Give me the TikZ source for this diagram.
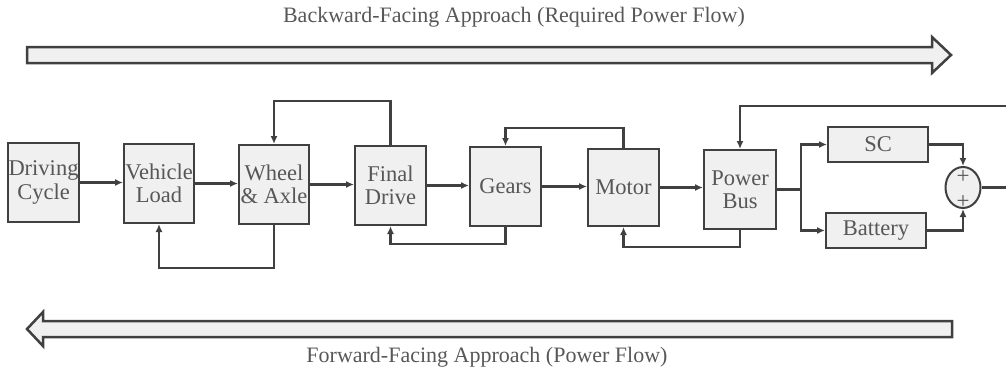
\documentclass[tikz,border=0pt]{standalone}
\usepackage{fontspec}
\setmainfont{Liberation Serif}
\newfontfamily\blockfont{Liberation Serif}
\usetikzlibrary{arrows.meta,shapes.geometric}
\definecolor{boxfill}{HTML}{F0F0F0}
\definecolor{edge}{HTML}{404040}
\definecolor{txt}{HTML}{575757}
\begin{document}
\begin{tikzpicture}[x=1pt,y=-1pt,
  blk/.style={draw=edge, fill=boxfill, line width=2pt, inner sep=0pt, text=txt,
    align=center, font=\blockfont\fontsize{22.5}{23.5}\selectfont},
  flow/.style={draw=edge, line width=2.2pt, -{Latex[length=8pt,width=7pt]}},
  wire/.style={draw=edge, line width=2.2pt},
  bigarrow/.style={draw=edge, fill=boxfill, line width=2.5pt, line join=miter},
  caption/.style={text=txt, font=\blockfont\fontsize{22}{24}\selectfont},
  sign/.style={text=txt, font=\blockfont\fontsize{23}{23}\selectfont, inner sep=0pt}]
\useasboundingbox (0,0) rectangle (1006,373);

% captions and the two broad flow arrows
\node[caption] (bwtxt) at (514,17) {Backward-Facing Approach (Required Power Flow)};
\node[caption] (fwtxt) at (487,357) {Forward-Facing Approach (Power Flow)};
\path[bigarrow] (27,47) -- (932,47) -- (932,37) -- (951,55) -- (932,73) -- (932,63) -- (27,63) -- cycle;
\path[bigarrow] (952,321) -- (43,321) -- (43,312) -- (27,329) -- (43,346) -- (43,337) -- (952,337) -- cycle;

% drivetrain blocks
\node[blk, minimum width=71pt, minimum height=79pt] (dc) at (43.5,182.5) {Driving\\Cycle};
\node[blk, minimum width=70pt, minimum height=79pt] (vl) at (159,183.5) {Vehicle\\Load};
\node[blk, minimum width=70pt, minimum height=79pt] (wa) at (274,184.5) {Wheel\\\& Axle};
\node[blk, minimum width=71pt, minimum height=79pt] (fd) at (390.5,185.5) {Final\\Drive};
\node[blk, minimum width=71pt, minimum height=79pt] (ge) at (505.5,186.5) {Gears};
\node[blk, minimum width=71pt, minimum height=77pt] (mo) at (623.5,187.5) {Motor};
\node[blk, minimum width=72pt, minimum height=79pt] (pb) at (740,189.5) {Power\\Bus};
\node[blk, minimum width=100pt, minimum height=35pt] (sc) at (878,144.5) {SC};
\node[blk, minimum width=100pt, minimum height=35pt] (bat) at (876,230.5) {Battery};
\node[draw=edge, fill=boxfill, line width=2pt, ellipse, inner sep=0pt,
      minimum width=35pt, minimum height=41pt] (sum) at (963,187.5) {};
\node[sign] (p1) at (963,177) {+};
\node[sign] (p2) at (963,202) {+};

% forward chain
\draw[flow] (dc.east) -- (dc.east -| vl.west);
\draw[flow] (vl.east) -- (vl.east -| wa.west);
\draw[flow] (wa.east) -- (wa.east -| fd.west);
\draw[flow] (fd.east) -- (fd.east -| ge.west);
\draw[flow] (ge.east) -- (ge.east -| mo.west);
\draw[flow] (mo.east) -- (mo.east -| pb.west);

% feedback loops
\draw[flow] (fd.north) -- ++(0,-44) -| (wa.north);
\draw[flow] (wa.south) -- ++(0,43) -| (vl.south);
\draw[flow] (mo.north) -- ++(0,-20) -| (ge.north);
\draw[flow] (ge.south) -- ++(0,17) -| (fd.south);
\draw[flow] (pb.south) -- ++(0,17) -| (mo.south);
\coordinate (rin) at (1006,106);
\draw[flow] (rin) -| (pb.north);

% storage branch and summing junction
\coordinate (split) at (801,189.5);
\draw[wire] (pb.east) -- (split);
\draw[flow] (split) |- (sc.west);
\draw[flow] (split) |- (bat.west);
\draw[flow] (sc.east) -| (sum.north);
\draw[flow] (bat.east) -| (sum.south);
\coordinate (out) at (1006,187.5);
\draw[wire] (sum.east) -- (out);
\end{tikzpicture}
\end{document}
